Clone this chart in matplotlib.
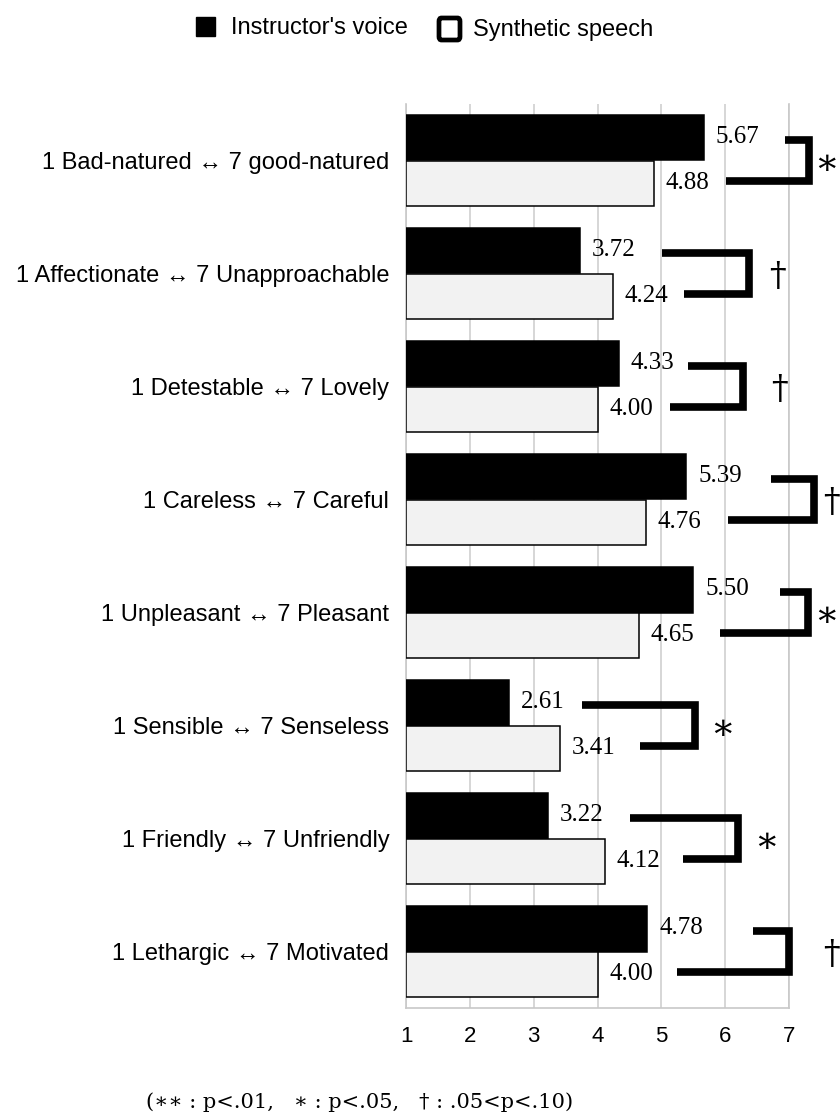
import matplotlib
matplotlib.use("Agg")
import matplotlib.pyplot as plt
from matplotlib.patches import Rectangle, FancyBboxPatch

categories = [
    "1 Bad-natured \u2194 7 good-natured",
    "1 Affectionate \u2194 7 Unapproachable",
    "1 Detestable \u2194 7 Lovely",
    "1 Careless \u2194 7 Careful",
    "1 Unpleasant \u2194 7 Pleasant",
    "1 Sensible \u2194 7 Senseless",
    "1 Friendly \u2194 7 Unfriendly",
    "1 Lethargic \u2194 7 Motivated",
]
instructor = [5.67, 3.72, 4.33, 5.39, 5.50, 2.61, 3.22, 4.78]
synthetic = [4.88, 4.24, 4.00, 4.76, 4.65, 3.41, 4.12, 4.00]
marks = ["\u2217", "\u2020", "\u2020", "\u2020", "\u2217", "\u2217", "\u2217", "\u2020"]

# bracket layout (x in scale units)
bracket_top_start = [6.94, 5.01, 5.42, 6.72, 6.86, 3.76, 4.51, 6.44]
bracket_bot_start = [6.02, 5.36, 5.14, 6.05, 5.92, 4.67, 5.34, 5.25]
bracket_x = [7.32, 6.38, 6.28, 7.39, 7.30, 5.53, 6.20, 7.00]
mark_x = [7.58, 6.82, 6.85, 7.66, 7.58, 5.95, 6.64, 7.66]

sans = ["Liberation Sans", "DejaVu Sans"]
serif = ["Liberation Serif", "DejaVu Serif"]

fig = plt.figure(figsize=(8.4, 11.15), dpi=100)
ax = fig.add_axes([406 / 840, 1 - 1008 / 1115, 383 / 840, 904 / 1115])

ys = list(range(len(categories)))
h = 0.4
ax.barh([y - h / 2 for y in ys], [v - 1 for v in instructor], left=1, height=h,
        color="black", edgecolor="black", linewidth=1.1, zorder=3)
ax.barh([y + h / 2 for y in ys], [v - 1 for v in synthetic], left=1, height=h,
        color="#f2f2f2", edgecolor="black", linewidth=1.1, zorder=3)

for y, a, b in zip(ys, instructor, synthetic):
    ax.annotate(f"{a:.2f}", (a, y - h / 2), xytext=(8.5, 1), textcoords="offset points",
                va="center", ha="left", fontsize=18, family=serif, zorder=4)
    ax.annotate(f"{b:.2f}", (b, y + h / 2), xytext=(8.5, 0), textcoords="offset points",
                va="center", ha="left", fontsize=18, family=serif, zorder=4)

for y, t0, b0, bx, mx, m in zip(ys, bracket_top_start, bracket_bot_start, bracket_x, mark_x, marks):
    ax.plot([t0, bx, bx, b0], [y - 0.18, y - 0.18, y + 0.18, y + 0.18], color="black",
            lw=5.5, solid_joinstyle="miter", solid_capstyle="butt", clip_on=False, zorder=5)
    ax.text(mx, y + 0.03, m, ha="center", va="center", fontsize=26 if m == "\u2217" else 24,
            family=["DejaVu Serif", "DejaVu Sans"], clip_on=False)

ax.set_xlim(1, 7)
ax.set_ylim(len(categories) - 0.5, -0.5)
ax.set_xticks(range(1, 8))
ax.set_yticks(ys)
ax.set_yticklabels(categories, family=sans, fontsize=17)
for lbl in ax.get_xticklabels():
    lbl.set_family(sans)
    lbl.set_fontsize(16)
ax.tick_params(axis="both", length=0)
ax.tick_params(axis="x", pad=13)
ax.tick_params(axis="y", pad=12)
ax.grid(axis="x", color="#d0d0d0", linewidth=1.2, zorder=0)
ax.set_axisbelow(True)
ax.spines["top"].set_visible(False)
for s in ["left", "right", "bottom"]:
    ax.spines[s].set_color("#c8c8c8")
    ax.spines[s].set_linewidth(1.2)

# legend
W, H = 840, 1115
fig.patches.append(Rectangle((196 / W, 1 - 36 / H), 19 / W, 19 / H, transform=fig.transFigure,
                             facecolor="black", edgecolor="black"))
fig.text(231 / W, 1 - 28 / H, "Instructor's voice", family=sans, fontsize=17, va="center")
fig.patches.append(FancyBboxPatch((439 / W, 1 - 40 / H), 21 / W, 22 / H, transform=fig.transFigure,
                                  boxstyle="round,pad=0,rounding_size=0.003",
                                  facecolor="white", edgecolor="black", linewidth=3.4))
fig.text(473 / W, 1 - 30 / H, "Synthetic speech", family=sans, fontsize=17, va="center")

fig.text(360 / W, 1 - 1102 / H, "(\u2217\u2217 : p<.01,   \u2217 : p<.05,   \u2020 : .05<p<.10)",
         ha="center", va="center", fontsize=15, family=["DejaVu Serif", "DejaVu Sans"])

fig.savefig("out.png", dpi=100)
